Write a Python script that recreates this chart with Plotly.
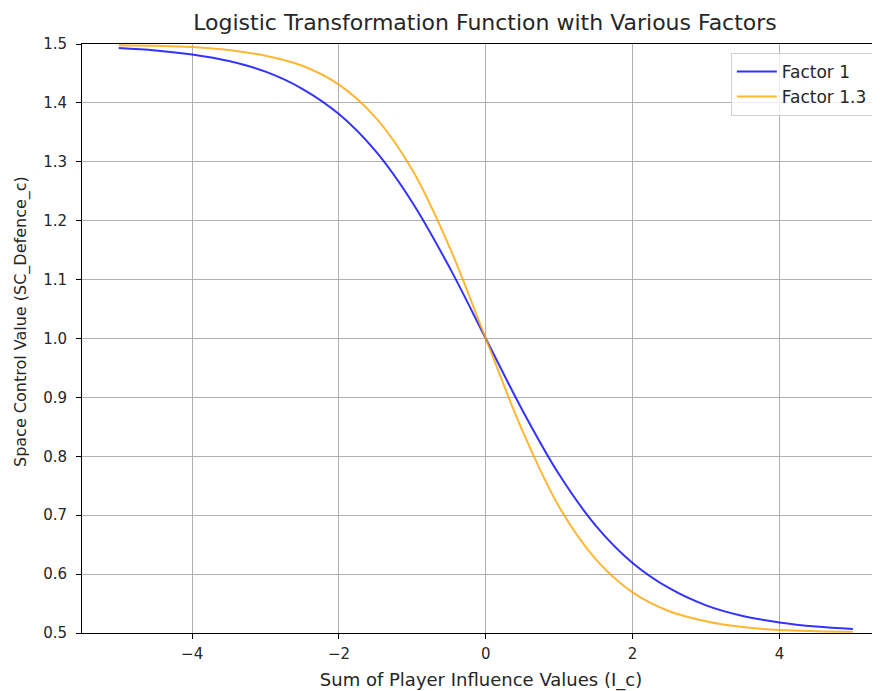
import plotly.graph_objects as go

# Values (x step 0.5)
x_vals = [-5.0, -4.5, -4.0, -3.5, -3.0, -2.5, -2.0, -1.5, -1.0, -0.5, 0.0,
          0.5, 1.0, 1.5, 2.0, 2.5, 3.0, 3.5, 4.0, 4.5, 5.0]
factor1_vals = [1.493, 1.489, 1.482, 1.471, 1.453, 1.424, 1.381, 1.318, 1.231, 1.122, 1.000,
                0.878, 0.769, 0.682, 0.619, 0.576, 0.547, 0.529, 0.518, 0.511, 0.507]
factor13_vals = [1.498, 1.497, 1.495, 1.490, 1.480, 1.463, 1.431, 1.375, 1.286, 1.157, 1.000,
                 0.843, 0.714, 0.625, 0.569, 0.537, 0.520, 0.510, 0.505, 0.503, 0.502]
series_names = ["Factor 1", "Factor 1.3"]
x_ticks = [-4, -2, 0, 2, 4]
x_tick_labels = ["\u22124", "\u22122", "0", "2", "4"]
y_ticks = [0.5, 0.6, 0.7, 0.8, 0.9, 1.0, 1.1, 1.2, 1.3, 1.4, 1.5]
y_tick_labels = ["0.5", "0.6", "0.7", "0.8", "0.9", "1.0", "1.1", "1.2", "1.3", "1.4", "1.5"]

FONT = "DejaVu Sans"
TXT = "#262626"

fig = go.Figure()
fig.add_trace(go.Scatter(x=x_vals, y=factor1_vals, mode="lines", name=series_names[0],
                         line=dict(color="rgba(0,0,255,0.8)", width=2, shape="spline")))
fig.add_trace(go.Scatter(x=x_vals, y=factor13_vals, mode="lines", name=series_names[1],
                         line=dict(color="rgba(255,165,0,0.8)", width=2, shape="spline")))

W, H = 872, 683
L, R, T, B = 74, 0, 36, 58
plot_w = W - L - R
plot_h = H - T - B
fig.update_layout(
    width=W, height=H,
    margin=dict(l=L, r=R, t=T, b=B),
    paper_bgcolor="white", plot_bgcolor="white",
    font=dict(family=FONT, size=14, color=TXT),
    title=dict(text="Logistic Transformation Function with Various Factors",
               x=477 / W, xanchor="center", y=1 - 14 / H, yanchor="middle",
               font=dict(family=FONT, size=22, color=TXT)),
    showlegend=True,
    legend=dict(x=0.991, y=0.985, xanchor="right", yanchor="top",
                bgcolor="rgba(255,255,255,0.8)", bordercolor="#d0d0d0", borderwidth=1,
                font=dict(family=FONT, size=17, color=TXT),
                tracegroupgap=0, itemwidth=40),
    annotations=[dict(text="Space Control Value (SC_Defence_c)", textangle=-90,
                      xref="paper", yref="paper",
                      x=(13 - L) / plot_w, y=(625 - 314) / plot_h,
                      xanchor="center", yanchor="middle", showarrow=False,
                      font=dict(family=FONT, size=16, color=TXT))],
)
fig.update_xaxes(range=[-5.5, 5.37], tickmode="array", tickvals=x_ticks, ticktext=x_tick_labels,
                 showgrid=True, gridcolor="#b0b0b0", gridwidth=1,
                 showline=True, linecolor="black", linewidth=1, mirror=True,
                 ticks="outside", ticklen=5, tickcolor="black", zeroline=False,
                 ticklabelstandoff=2,
                 tickfont=dict(family=FONT, size=15, color=TXT),
                 title=dict(text="Sum of Player Influence Values (I_c)", standoff=12,
                            font=dict(family=FONT, size=18, color=TXT)))
fig.update_yaxes(range=[0.5, 1.5], tickmode="array", tickvals=y_ticks, ticktext=y_tick_labels,
                 showgrid=True, gridcolor="#b0b0b0", gridwidth=1,
                 showline=True, linecolor="black", linewidth=1, mirror=False,
                 ticks="outside", ticklen=5, tickcolor="black", zeroline=False,
                 ticklabelstandoff=6,
                 tickfont=dict(family=FONT, size=15, color=TXT))

fig.write_html("out.html")
